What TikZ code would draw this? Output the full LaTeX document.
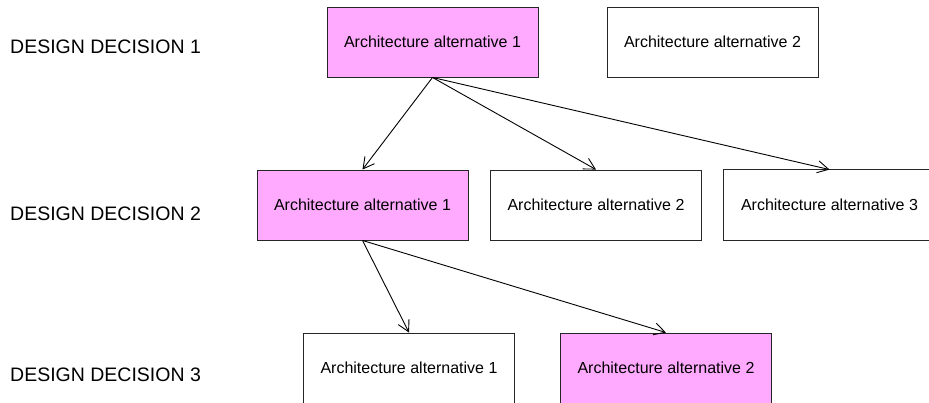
\documentclass[tikz,border=0pt]{standalone}
\usepackage{fontspec}
\setmainfont{Liberation Sans}
\usetikzlibrary{arrows.meta}
\definecolor{altpink}{RGB}{255,170,255}
\begin{document}
\begin{tikzpicture}[x=1pt,y=-1pt,
  edge/.style={draw=black!85, line width=0.9pt},
  altbox/.style={edge, minimum width=211pt, minimum height=70pt,
    inner sep=0pt, fill=white, font=\fontsize{16}{19}\selectfont},
  chosen/.style={altbox, fill=altpink},
  decision/.style={anchor=west, inner sep=0pt, font=\fontsize{19.5}{23}\selectfont},
  link/.style={line width=0.9pt, -{Straight Barb[length=11pt,width=12pt]}}]
  \useasboundingbox (0,0) rectangle (929,402);
  \clip (0,0) rectangle (929,402);

  % decision labels
  \node[decision] (d1) at (10,47) {DESIGN DECISION 1};
  \node[decision] (d2) at (10,214) {DESIGN DECISION 2};
  \node[decision] (d3) at (10,375) {DESIGN DECISION 3};

  % first decision
  \node[chosen] (a1) at (432.5,42) {Architecture alternative 1};
  \node[altbox] (a2) at (712.5,42) {Architecture alternative 2};

  % second decision
  \node[chosen] (b1) at (362.5,205) {Architecture alternative 1};
  \node[altbox] (b2) at (596,205) {Architecture alternative 2};
  \node[altbox, draw=none] (b3) at (829.5,205) {Architecture alternative 3};
  % this box runs off the right edge, so its right side is not drawn
  \draw[edge] ([xshift=20pt]b3.north east) -- (b3.north west)
    -- (b3.south west) -- ([xshift=20pt]b3.south east);

  % third decision
  \node[altbox] (c1) at (409,368) {Architecture alternative 1};
  \node[chosen] (c2) at (666,368) {Architecture alternative 2};

  % refinements
  \draw[link] (a1.south) -- (b1.north);
  \draw[link] (a1.south) -- (b2.north);
  \draw[link] (a1.south) -- (b3.north);
  \draw[link] (b1.south) -- (c1.north);
  \draw[link] (b1.south) -- (c2.north);
\end{tikzpicture}
\end{document}
